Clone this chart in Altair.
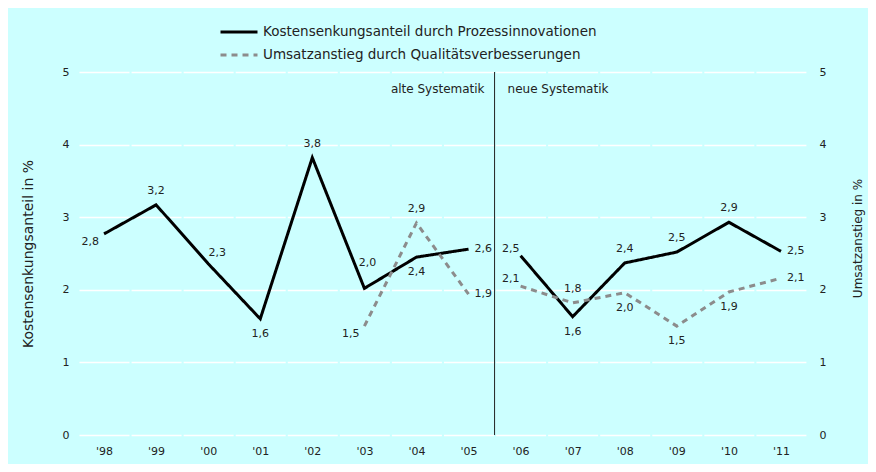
import altair as alt
import pandas as pd

# ---------------- data ----------------
years = [1998, 1999, 2000, 2001, 2002, 2003, 2004, 2005, 2006, 2007, 2008, 2009, 2010, 2011]
year_labels = ["'98", "'99", "'00", "'01", "'02", "'03", "'04", "'05", "'06", "'07", "'08", "'09", "'10", "'11"]

series_names = ["Kostensenkungsanteil durch Prozessinnovationen",
                "Umsatzanstieg durch Qualitätsverbesserungen"]

kosten = [2.77, 3.17, 2.36, 1.60, 3.82, 2.02, 2.45, 2.56, 2.47, 1.63, 2.37, 2.52, 2.93, 2.53]
kosten_labels = ["2,8", "3,2", "2,3", "1,6", "3,8", "2,0", "2,4", "2,6", "2,5", "1,6", "2,4", "2,5", "2,9", "2,5"]

umsatz = [None, None, None, None, None, 1.50, 2.92, 1.94, 2.05, 1.82, 1.96, 1.50, 1.97, 2.16]
umsatz_labels = [None, None, None, None, None, "1,5", "2,9", "1,9", "2,1", "1,8", "2,0", "1,5", "1,9", "2,1"]

break_year = 2005.5          # change of methodology
annotation_y = 4.77
annotations = ["alte Systematik", "neue Systematik"]

# ---------------- label placement (style) ----------------
kosten_pos = ["left_low", "above", "above_right", "below", "above", "high", "below", "right",
              "left_high", "below", "above", "above", "above", "right"]
umsatz_pos = [None, None, None, None, None, "left_low", "above", "right",
              "left_high", "above", "below", "below", "below", "right"]
label_styles = {
    "above": dict(align="center", dx=0, dy=-14),
    "below": dict(align="center", dx=0, dy=15),
    "right": dict(align="left", dx=6, dy=0),
    "left_low": dict(align="right", dx=-5, dy=8),
    "left_high": dict(align="right", dx=-1, dy=-7),
    "above_right": dict(align="center", dx=9, dy=-11),
    "high": dict(align="center", dx=3, dy=-25),
}

FONT = "DejaVu Sans"
TXT = "#222222"
BG = "#ccffff"

rows = []
for i, y in enumerate(years):
    period = "alt" if y < break_year else "neu"
    rows.append(dict(year=y, value=kosten[i], label=kosten_labels[i], pos=kosten_pos[i],
                     series=series_names[0], period=period))
    if umsatz[i] is not None:
        rows.append(dict(year=y, value=umsatz[i], label=umsatz_labels[i], pos=umsatz_pos[i],
                         series=series_names[1], period=period))
df = pd.DataFrame(rows)
df_k = df[df.series == series_names[0]]
df_u = df[df.series == series_names[1]]

label_map = "{" + ", ".join(f"'{y}': \"{l}\"" for y, l in zip(years, year_labels)) + "}"

x_enc = alt.X("year:Q",
              scale=alt.Scale(domain=[years[0] - 0.5, years[-1] + 0.5], nice=False, zero=False),
              axis=alt.Axis(values=years, format="d", labelExpr=f"{label_map}[datum.label]",
                            grid=False, domain=False, ticks=False, title=None,
                            labelFont=FONT, labelFontSize=11, labelColor=TXT, labelPadding=10))

y_scale = alt.Scale(domain=[0, 5], nice=False)
left_axis = alt.Axis(orient="left", values=[0, 1, 2, 3, 4, 5], grid=True, gridColor="white",
                     gridWidth=1.5, gridDash=[50, 2.07], gridDashOffset=-1,
                     domain=False, ticks=False, labelFont=FONT, labelFontSize=11,
                     labelColor=TXT, labelPadding=9, title="Kostensenkungsanteil in %",
                     titleFont=FONT, titleFontSize=14, titleFontWeight="normal",
                     titleColor=TXT, titlePadding=27)
right_axis = alt.Axis(orient="right", values=[0, 1, 2, 3, 4, 5], grid=False,
                      domain=False, ticks=False, labelFont=FONT, labelFontSize=11,
                      labelColor=TXT, labelPadding=12, title="Umsatzanstieg in %",
                      titleFont=FONT, titleFontSize=12, titleFontWeight="normal",
                      titleColor=TXT, titlePadding=39, titleAngle=270, titleY=166)

legend = alt.Legend(orient="none", legendX=150, legendY=-51, title=None,
                    symbolType="M-2,0L2,0", symbolSize=342, symbolStrokeWidth=3,
                    labelFont=FONT, labelFontSize=13.5, labelColor=TXT, labelOffset=13,
                    labelLimit=0, rowPadding=5, padding=0, direction="vertical")
color_enc = alt.Color("series:N", scale=alt.Scale(domain=series_names, range=["#000000", "#8c8c8c"]),
                      legend=legend)
dash_enc = alt.StrokeDash("series:N", scale=alt.Scale(domain=series_names, range=[[1, 0], [6, 5]]),
                          legend=legend)


def text_layers(data, y_enc):
    layers = []
    for code, st in label_styles.items():
        sub = data[data.pos == code]
        if len(sub) == 0:
            continue
        layers.append(
            alt.Chart(sub).mark_text(font=FONT, fontSize=11, color=TXT, baseline="middle", **st)
            .encode(x=x_enc, y=y_enc, text="label:N")
        )
    return layers


y_left = alt.Y("value:Q", scale=y_scale, axis=left_axis)
y_right = alt.Y("value:Q", scale=y_scale, axis=right_axis)

line_k = alt.Chart(df_k).mark_line(strokeWidth=3, strokeCap="butt").encode(
    x=x_enc, y=y_left, color=color_enc, strokeDash=dash_enc, detail="period:N")

rule = alt.Chart(pd.DataFrame({"x": [break_year]})).mark_rule(color="#222222", strokeWidth=1).encode(
    x=alt.X("x:Q"))

ann_df = pd.DataFrame({"x": [break_year, break_year], "y": [annotation_y, annotation_y],
                       "text": annotations})
ann_left = alt.Chart(ann_df.iloc[[0]]).mark_text(font=FONT, fontSize=12, color=TXT, align="right",
                                                dx=-10, baseline="middle").encode(
    x=alt.X("x:Q"), y=alt.Y("y:Q", scale=y_scale, axis=left_axis), text="text:N")
ann_right = alt.Chart(ann_df.iloc[[1]]).mark_text(font=FONT, fontSize=12, color=TXT, align="left",
                                                 dx=13, baseline="middle").encode(
    x=alt.X("x:Q"), y=alt.Y("y:Q", scale=y_scale, axis=left_axis), text="text:N")

left_group = alt.layer(line_k, *text_layers(df_k, y_left), rule, ann_left, ann_right)

line_u = alt.Chart(df_u).mark_line(strokeWidth=3, strokeCap="butt").encode(
    x=x_enc, y=y_right, color=color_enc, strokeDash=dash_enc, detail="period:N")
right_group = alt.layer(line_u, *text_layers(df_u, y_right))

chart = alt.layer(left_group, right_group).resolve_scale(y="independent").properties(
    width=729, height=363,
    autosize=alt.AutoSizeParams(type="none"),
    padding={"left": 70, "top": 64, "right": 61, "bottom": 29},
    background=BG,
).configure_view(stroke=None)

chart.save("out.html", embed_options={"renderer": "svg", "actions": False})
